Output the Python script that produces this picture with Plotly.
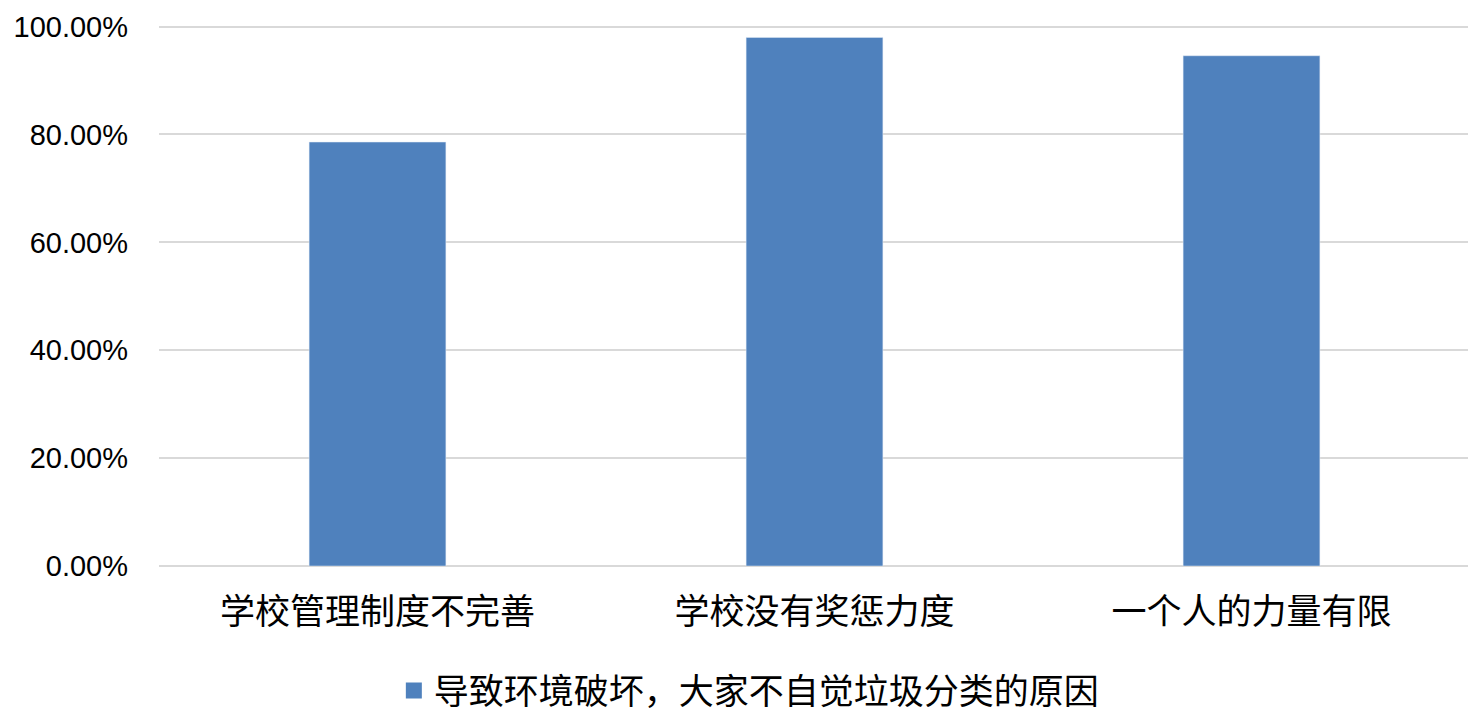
import plotly.graph_objects as go

categories = ['学校管理制度不完善', '学校没有奖惩力度', '一个人的力量有限']
values = [0.786, 0.98, 0.946]
series_name = '导致环境破坏，大家不自觉垃圾分类的原因'
y_ticks = [0, 0.2, 0.4, 0.6, 0.8, 1.0]

cjk = 'Noto Sans CJK SC'
latin = 'Liberation Sans'
bar_color = '#4f81bd'

fig = go.Figure()
fig.add_trace(go.Bar(
    x=categories,
    y=values,
    name=series_name,
    marker_color=bar_color,
    showlegend=False))
# legend entry with a bigger square swatch
fig.add_trace(go.Scatter(
    x=[None], y=[None],
    mode='markers',
    name=series_name,
    marker=dict(symbol='square', size=19, color=bar_color),
    showlegend=True))

# page body has an 8px margin, so the figure is 8px smaller than the window
fig.update_layout(
    width=1468, height=715,
    margin=dict(l=151, r=6, t=17, b=157),
    plot_bgcolor='white',
    paper_bgcolor='white',
    bargap=0.687,
    showlegend=True,
    legend=dict(
        orientation='h',
        xref='container', yref='container',
        x=0.505, xanchor='center',
        y=0.045, yanchor='middle',
        font=dict(family=cjk, size=35, color='#000000'),
        itemwidth=30,
    ),
)
fig.update_xaxes(
    tickfont=dict(family=cjk, size=35, color='#000000'),
    showline=False,
    ticks='',
    ticklabelstandoff=22,
    automargin=False,
)
fig.update_yaxes(
    range=[0, 1.003],
    tickvals=y_ticks,
    tickformat='.2%',
    tickfont=dict(family=latin, size=29, color='#000000'),
    showgrid=True,
    gridcolor='#d9d9d9',
    gridwidth=2,
    zeroline=True,
    zerolinecolor='#d9d9d9',
    zerolinewidth=2,
    ticks='',
    ticklabelstandoff=30,
    automargin=False,
)

fig.write_html('out.html')
